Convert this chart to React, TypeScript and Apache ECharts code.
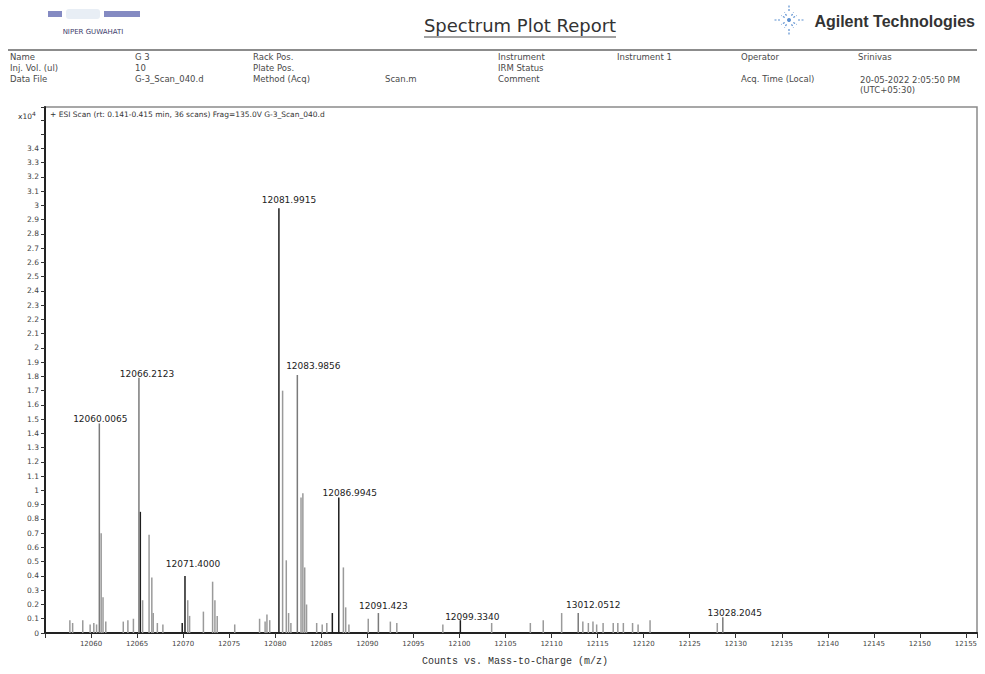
import React, { useEffect, useRef } from "react";
import * as echarts from "echarts";

// ---- data ----
const xTickMin = 12055;
const xTickMax = 12156.2;
const yMaxValue = 3.69;

// labelled peaks (m/z position as drawn, intensity x10^4, label text)
const labelledMz = [12060.9, 12065.2, 12070.2, 12080.4, 12082.4, 12086.9, 12091.2, 12100.1, 12112.9, 12128.6];
const labelledInt = [1.47, 1.79, 0.40, 2.98, 1.81, 0.95, 0.14, 0.09, 0.14, 0.11];
const labelledText = ["12060.0065", "12066.2123", "12071.4000", "12081.9915", "12083.9856", "12086.9945", "12091.423", "12099.3340", "13012.0512", "13028.2045"];

// other dark sticks
const darkMz = [12065.35, 12086.2, 12069.9];
const darkInt = [0.85, 0.14, 0.07];

// other grey sticks
const greyMz = [
  12057.7, 12058.0, 12059.1, 12059.9, 12060.3, 12060.6, 12061.1, 12061.3, 12061.6, 12063.5, 12064.0, 12064.6,
  12065.6, 12066.3, 12066.6, 12066.75, 12067.2, 12067.8, 12070.5, 12070.7, 12072.2, 12073.2, 12073.45, 12073.7,
  12075.6, 12078.3, 12078.9, 12079.1, 12079.4, 12080.8, 12081.2, 12081.45, 12081.7, 12082.8, 12083.0, 12083.2,
  12083.4, 12084.5, 12085.1, 12085.6, 12087.4, 12087.65, 12088.0, 12090.1, 12092.5, 12093.2, 12098.2, 12103.5,
  12107.7, 12109.1, 12111.1, 12113.4, 12114.0, 12114.5, 12114.9, 12115.6, 12116.7, 12117.2, 12117.8, 12118.8,
  12119.4, 12120.7, 12128.0,
];
const greyInt = [
  0.09, 0.07, 0.09, 0.06, 0.07, 0.06, 0.70, 0.25, 0.08, 0.08, 0.09, 0.10,
  0.23, 0.69, 0.39, 0.14, 0.07, 0.06, 0.23, 0.12, 0.15, 0.36, 0.23, 0.12,
  0.06, 0.10, 0.08, 0.13, 0.09, 1.70, 0.51, 0.14, 0.07, 0.95, 0.98, 0.46,
  0.20, 0.07, 0.06, 0.07, 0.46, 0.18, 0.06, 0.10, 0.08, 0.07, 0.06, 0.07,
  0.07, 0.09, 0.14, 0.08, 0.07, 0.08, 0.06, 0.07, 0.07, 0.07, 0.07, 0.07,
  0.06, 0.09, 0.07,
];

// ---- styles ----
const labelDark = [false, false, true, true, false, true, false, true, false, false];
const labelOffsets: [number, number][] = [
  [1, 0], [8, 1], [8, -7], [10, -4], [16, -4], [11, 0], [5, -3], [12, 1], [15, -4], [12, 0],
];
const GREY = "#9a9a9a";
const DARK = "#1e1e1e";

function fmtY(v: number) {
  if (v > 3.45) return "";
  const r = Math.round(v * 10) / 10;
  if (Math.abs(r - Math.round(r)) < 1e-6) return String(Math.round(r));
  return r.toFixed(1);
}

export default function App() {
  const ref = useRef<HTMLDivElement>(null);
  useEffect(() => {
    document.body.style.margin = "0";
    if (!ref.current) return;
    const chart = echarts.init(ref.current, null, { renderer: "svg" });

    const data: any[] = [];
    greyMz.forEach((x, i) => data.push({ value: [x, greyInt[i]], itemStyle: { color: GREY } }));
    darkMz.forEach((x, i) => data.push({ value: [x, darkInt[i]], itemStyle: { color: DARK } }));
    labelledMz.forEach((x, i) =>
      data.push({
        value: [x, labelledInt[i]],
        itemStyle: { color: labelDark[i] ? DARK : "#7a7a7a" },
        label: {
          show: true,
          position: "top",
          distance: 0,
          offset: labelOffsets[i],
          formatter: labelledText[i],
          fontSize: 9,
          color: "#222",
          fontFamily: "DejaVu Sans",
        },
      })
    );

    const info = (x: number, y: number, t: string) => ({
      type: "text",
      x,
      y,
      style: { text: t, fontSize: 8.5, fill: "#4a4a4a", fontFamily: "DejaVu Sans", verticalAlign: "middle" },
    });

    const spark: any[] = [];
    const cx = 789, cy = 20;
    for (let k = 0; k < 12; k++) {
      const a = (k / 12) * Math.PI * 2;
      const r1 = k % 3 === 0 ? 9 : 5;
      const r2 = k % 3 === 0 ? 15 : 9;
      spark.push({
        type: "line",
        shape: { x1: cx + Math.cos(a) * r1, y1: cy + Math.sin(a) * r1, x2: cx + Math.cos(a) * r2, y2: cy + Math.sin(a) * r2 },
        style: { stroke: "#5b8fd0", lineWidth: 1.2, lineDash: [2, 1.5] },
      });
    }

    chart.setOption({
      animation: false,
      backgroundColor: "#ffffff",
      grid: { left: 45, right: 8, top: 107, bottom: 41, show: true, borderColor: "#8a8a8a", borderWidth: 1.5 },
      xAxis: {
        type: "value",
        min: xTickMin,
        max: xTickMax,
        interval: 5,
        axisLine: { show: true, onZero: false, lineStyle: { color: "#222", width: 2 } },
        axisTick: { show: true, length: 5, lineStyle: { color: "#333" } },
        axisLabel: {
          fontSize: 7,
          color: "#444",
          margin: 7,
          fontFamily: "DejaVu Sans",
          formatter: (v: number) => (v === xTickMin || Math.abs(v % 5) > 1e-6 ? "" : String(v)),
        },
        splitLine: { show: false },
      },
      yAxis: {
        type: "value",
        min: 0,
        max: yMaxValue,
        interval: 0.1,
        axisLine: { show: true, lineStyle: { color: "#222", width: 2 } },
        axisTick: { show: true, length: 4, lineStyle: { color: "#333" } },
        axisLabel: { fontSize: 7.5, color: "#444", margin: 6, fontFamily: "DejaVu Sans", formatter: fmtY },
        splitLine: { show: false },
      },
      series: [
        {
          type: "bar",
          barWidth: 1.5,
          data,
          clip: true,
        },
      ],
      graphic: [
        // left logo
        { type: "rect", shape: { x: 48, y: 11, width: 14, height: 6 }, style: { fill: "#5058a8", opacity: 0.7 } },
        { type: "rect", shape: { x: 66, y: 9, width: 34, height: 10, r: 3 }, style: { fill: "#e8eef5" } },
        { type: "rect", shape: { x: 104, y: 11, width: 36, height: 6 }, style: { fill: "#5058a8", opacity: 0.7 } },
        {
          type: "text",
          x: 93,
          y: 32,
          style: { text: "NIPER GUWAHATI", fontSize: 7, fill: "#3d3d6b", fontFamily: "DejaVu Sans", align: "center", verticalAlign: "middle" },
        },
        // title
        {
          type: "text",
          x: 520,
          y: 25,
          style: { text: "Spectrum Plot Report", fontSize: 18, fill: "#333", fontFamily: "DejaVu Sans", align: "center", verticalAlign: "middle" },
        },
        { type: "line", shape: { x1: 424, y1: 37, x2: 616, y2: 37 }, style: { stroke: "#444", lineWidth: 1.2 } },
        ...spark,
        { type: "circle", shape: { cx, cy, r: 2 }, style: { fill: "#5b8fd0" } },
        {
          type: "text",
          x: 975,
          y: 21,
          style: {
            text: "Agilent Technologies",
            fontSize: 16,
            fontWeight: "bold",
            fill: "#333",
            fontFamily: "Liberation Sans",
            align: "right",
            verticalAlign: "middle",
          },
        },
        { type: "line", shape: { x1: 8, y1: 50, x2: 977, y2: 50 }, style: { stroke: "#666", lineWidth: 1.5 } },
        info(10, 57, "Name"),
        info(135, 57, "G 3"),
        info(253, 57, "Rack Pos."),
        info(498, 57, "Instrument"),
        info(617, 57, "Instrument 1"),
        info(741, 57, "Operator"),
        info(858, 57, "Srinivas"),
        info(10, 68, "Inj. Vol. (ul)"),
        info(135, 68, "10"),
        info(253, 68, "Plate Pos."),
        info(498, 68, "IRM Status"),
        info(10, 79, "Data File"),
        info(135, 79, "G-3_Scan_040.d"),
        info(253, 79, "Method (Acq)"),
        info(385, 79, "Scan.m"),
        info(498, 79, "Comment"),
        info(741, 79, "Acq. Time (Local)"),
        info(860, 80, "20-05-2022 2:05:50 PM"),
        info(860, 90, "(UTC+05:30)"),
        {
          type: "text",
          x: 50,
          y: 114,
          style: {
            text: "+ ESI Scan (rt: 0.141-0.415 min, 36 scans) Frag=135.0V G-3_Scan_040.d",
            fontSize: 7.5,
            fill: "#333",
            fontFamily: "DejaVu Sans",
            verticalAlign: "middle",
          },
        },
        {
          type: "text",
          x: 18,
          y: 116,
          style: {
            text: "{a|x10}{b|4}",
            verticalAlign: "middle",
            rich: {
              a: { fontSize: 7.5, fill: "#333", fontFamily: "DejaVu Sans" },
              b: { fontSize: 6, fill: "#333", fontFamily: "DejaVu Sans", verticalAlign: "top", padding: [0, 0, 6, 0] },
            },
          },
        },
        {
          type: "text",
          x: 515,
          y: 661,
          style: {
            text: "Counts vs. Mass-to-Charge (m/z)",
            fontSize: 10,
            fill: "#333",
            fontFamily: "Liberation Mono",
            align: "center",
            verticalAlign: "middle",
          },
        },
      ],
    });
    return () => chart.dispose();
  }, []);
  return <div ref={ref} style={{ width: 985, height: 674 }} />;
}
